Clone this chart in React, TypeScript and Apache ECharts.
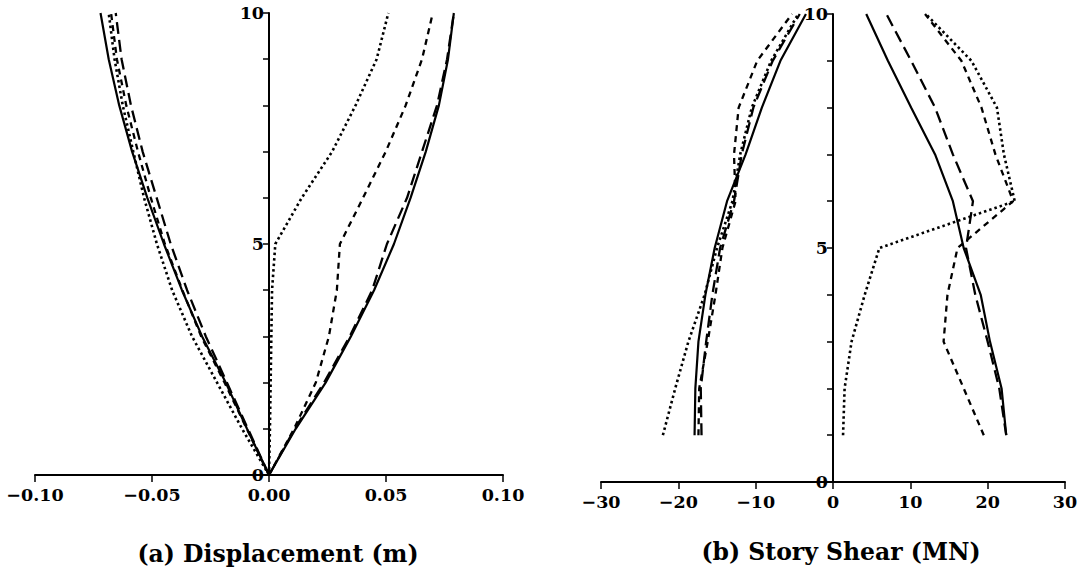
import React, { useEffect, useRef } from "react";
import * as echarts from "echarts";

// ---- Data ----
const dispStories = [0, 1, 2, 3, 4, 5, 6, 7, 8, 9, 10];
const dispSolidPos = [0, 0.0114, 0.0242, 0.035, 0.0449, 0.0534, 0.0605, 0.067, 0.0726, 0.0765, 0.079];
const dispLongPos = [0, 0.011, 0.0235, 0.0345, 0.0441, 0.0504, 0.059, 0.0654, 0.0718, 0.0761, 0.079];
const dispShortPos = [0, 0.0107, 0.02, 0.0256, 0.029, 0.0303, 0.0402, 0.0499, 0.0584, 0.0654, 0.07];
const dispDotPos = [0, 0.0004, 0.0007, 0.001, 0.0013, 0.0027, 0.014, 0.027, 0.037, 0.046, 0.051];
const dispSolidNeg = [0, -0.0094, -0.0185, -0.0286, -0.0372, -0.0449, -0.052, -0.0585, -0.064, -0.0685, -0.072];
const dispLongNeg = [0, -0.009, -0.018, -0.027, -0.035, -0.042, -0.048, -0.054, -0.059, -0.063, -0.0655];
const dispShortNeg = [0, -0.0095, -0.019, -0.029, -0.037, -0.0445, -0.0505, -0.056, -0.061, -0.065, -0.0675];
const dispDotNeg = [0, -0.0115, -0.0222, -0.0329, -0.0414, -0.0479, -0.0534, -0.058, -0.0625, -0.066, -0.0685];

const shearStories = [1, 2, 3, 4, 5, 6, 7, 8, 9, 10];
const shearSolidPos = [22.4, 21.8, 20.3, 19.1, 16.9, 15.5, 13.2, 10.1, 7.1, 4.3];
const shearLongPos = [22.4, 21.5, 20.0, 18.4, 17.2, 18.1, 15.5, 13.2, 10.1, 6.9];
const shearShortPos = [19.5, 16.9, 14.3, 14.8, 16.1, 23.3, 21.0, 19.2, 16.6, 11.9];
const shearDotPos = [1.3, 1.5, 2.4, 4.1, 6.0, 23.5, 22.1, 21.2, 17.9, 12.0];
const shearSolidNeg = [-17.9, -17.8, -17.4, -16.5, -15.3, -13.7, -11.3, -9.2, -6.8, -3.5];
const shearLongNeg = [-17.0, -17.1, -16.4, -15.6, -14.6, -12.8, -11.8, -10.3, -7.8, -4.3];
const shearShortNeg = [-17.4, -17.3, -16.2, -15.2, -14.3, -12.6, -12.8, -12.2, -9.8, -5.3];
const shearDotNeg = [-22.0, -20.4, -18.7, -16.6, -15.0, -13.0, -12.0, -10.5, -8.0, -4.5];

const titles = ["(a) Displacement (m)", "(b) Story Shear (MN)"];

const FONT = "'DejaVu Serif', serif";

const STYLES: Record<string, any> = {
  solid: { type: "solid", width: 2.2 },
  long: { type: [12, 6], width: 2.3 },
  short: { type: [6, 5], width: 2.3 },
  dot: { type: [2.5, 3], width: 2.6 },
};

function pairs(xs: number[], ys: number[]) {
  return xs.map((x, i) => [x, ys[i]]);
}

function mkSeries(idx: number, xs: number[], ys: number[], style: string) {
  return {
    type: "line",
    xAxisIndex: idx,
    yAxisIndex: idx,
    data: pairs(xs, ys),
    showSymbol: false,
    symbol: "none",
    lineStyle: { color: "#000", ...STYLES[style] },
    clip: false,
    silent: true,
  };
}

const axisLabelStyle = {
  color: "#000",
  fontFamily: FONT,
  fontWeight: "bold",
  fontSize: 17.5,
};

const minus = (s: string) => s.replace("-", "\u2212");

export default function App() {
  const ref = useRef<HTMLDivElement>(null);
  useEffect(() => {
    if (!ref.current) return;
    const chart = echarts.init(ref.current, undefined, { renderer: "svg" });
    const yAxisBase = {
      type: "value",
      min: 0,
      max: 10,
      interval: 1,
      position: "left",
      axisLine: { show: true, onZero: false, lineStyle: { color: "#000", width: 2 } },
      axisTick: { show: true, length: 6, lineStyle: { color: "#000", width: 1.5 } },
      axisLabel: {
        ...axisLabelStyle,
        margin: 5,
        formatter: (v: number) => (v % 5 === 0 ? String(v) : ""),
      },
      splitLine: { show: false },
    };
    chart.setOption({
      animation: false,
      backgroundColor: "#fff",
      title: [
        {
          text: titles[0],
          left: 273,
          top: 537,
          textAlign: "center",
          textStyle: { fontFamily: FONT, fontWeight: "bold", fontSize: 23.5, color: "#000" },
        },
        {
          text: titles[1],
          left: 836,
          top: 535,
          textAlign: "center",
          textStyle: { fontFamily: FONT, fontWeight: "bold", fontSize: 23.5, color: "#000" },
        },
      ],
      grid: [
        { left: 35, right: 586, top: 13, bottom: 92, containLabel: false },
        { left: 601, right: 24, top: 14, bottom: 85, containLabel: false },
      ],
      xAxis: [
        {
          gridIndex: 0,
          type: "value",
          min: -0.1,
          max: 0.1,
          interval: 0.05,
          axisLine: { onZero: false, lineStyle: { color: "#000", width: 2 } },
          axisTick: { show: true, length: 7, lineStyle: { color: "#000", width: 1.5 } },
          axisLabel: {
            ...axisLabelStyle,
            margin: 11,
            formatter: (v: number) => (Math.abs(v) < 1e-9 ? "0.00" : minus(v.toFixed(2))),
          },
          splitLine: { show: false },
        },
        {
          gridIndex: 1,
          type: "value",
          min: -30,
          max: 30,
          interval: 10,
          axisLine: { onZero: false, lineStyle: { color: "#000", width: 2 } },
          axisTick: { show: true, length: 7, lineStyle: { color: "#000", width: 1.5 } },
          axisLabel: { ...axisLabelStyle, margin: 11, formatter: (v: number) => minus(String(v)) },
          splitLine: { show: false },
        },
      ],
      yAxis: [
        { ...yAxisBase, gridIndex: 0, offset: -234 },
        { ...yAxisBase, gridIndex: 1, offset: -232 },
      ],
      series: [
        mkSeries(0, dispSolidPos, dispStories, "solid"),
        mkSeries(0, dispLongPos, dispStories, "long"),
        mkSeries(0, dispShortPos, dispStories, "short"),
        mkSeries(0, dispDotPos, dispStories, "dot"),
        mkSeries(0, dispSolidNeg, dispStories, "solid"),
        mkSeries(0, dispLongNeg, dispStories, "long"),
        mkSeries(0, dispShortNeg, dispStories, "short"),
        mkSeries(0, dispDotNeg, dispStories, "dot"),
        mkSeries(1, shearSolidPos, shearStories, "solid"),
        mkSeries(1, shearLongPos, shearStories, "long"),
        mkSeries(1, shearShortPos, shearStories, "short"),
        mkSeries(1, shearDotPos, shearStories, "dot"),
        mkSeries(1, shearSolidNeg, shearStories, "solid"),
        mkSeries(1, shearLongNeg, shearStories, "long"),
        mkSeries(1, shearShortNeg, shearStories, "short"),
        mkSeries(1, shearDotNeg, shearStories, "dot"),
      ],
    });
    return () => chart.dispose();
  }, []);
  return (
    <div
      ref={ref}
      style={{ position: "fixed", left: 0, top: 0, width: 1089, height: 567, background: "#fff" }}
    />
  );
}
